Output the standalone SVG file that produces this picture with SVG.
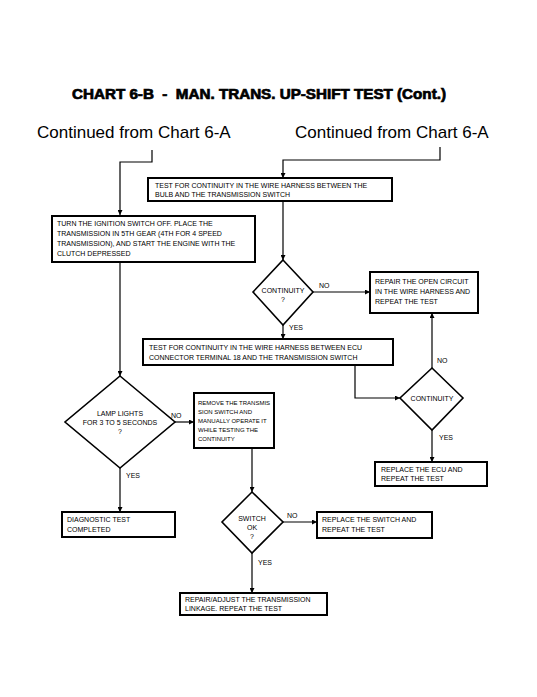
<svg xmlns="http://www.w3.org/2000/svg" width="537" height="697" viewBox="0 0 537 697">
<defs>
<marker id="arr" viewBox="0 0 8 8" refX="8" refY="4" markerWidth="5" markerHeight="5" orient="auto" markerUnits="userSpaceOnUse">
<path d="M0,0 L8,4 L0,8 z" fill="#000"/>
</marker>
<style>
.box{fill:#fff;stroke:#000;stroke-width:2}
.dia{fill:#fff;stroke:#000;stroke-width:1.6}
.c{fill:none;stroke:#000;stroke-width:1.2}
.t{font-family:"Liberation Sans",Arial,sans-serif;font-size:7px;fill:#000}
.ts{font-family:"Liberation Sans",Arial,sans-serif;font-size:6px;fill:#000}
.tc{font-family:"Liberation Sans",Arial,sans-serif;font-size:7px;fill:#000;text-anchor:middle}
.lab{font-family:"Liberation Sans",Arial,sans-serif;font-size:7px;fill:#000}
.big{font-family:"Liberation Sans",Arial,sans-serif;font-size:17px;fill:#000}
.title{font-family:"Liberation Sans",Arial,sans-serif;font-size:14px;font-weight:bold;fill:#000;stroke:#000;stroke-width:0.7;white-space:pre}
</style>
</defs>
<rect width="537" height="697" fill="#fff"/>
<text class="title" x="72" y="99" xml:space="preserve" textLength="374" lengthAdjust="spacingAndGlyphs">CHART 6-B  -  MAN. TRANS. UP-SHIFT TEST (Cont.)</text>
<text class="big" x="37" y="138">Continued from Chart 6-A</text>
<text class="big" x="295" y="138">Continued from Chart 6-A</text>

<g id="connectors">
<path class="c" d="M152,150 V162 H120 V215" marker-end="url(#arr)"/>
<path class="c" d="M440,147 V160 H283 V178" marker-end="url(#arr)"/>
<path class="c" d="M283,201 V260" marker-end="url(#arr)"/>
<path class="c" d="M313,292 H370" marker-end="url(#arr)"/>
<path class="c" d="M283,325 V339" marker-end="url(#arr)"/>
<path class="c" d="M355,365 V398 H400" marker-end="url(#arr)"/>
<path class="c" d="M432,368 V313" marker-end="url(#arr)"/>
<path class="c" d="M432,430 V462" marker-end="url(#arr)"/>
<path class="c" d="M120,262 V376" marker-end="url(#arr)"/>
<path class="c" d="M175,422 H194" marker-end="url(#arr)"/>
<path class="c" d="M120,468 V512" marker-end="url(#arr)"/>
<path class="c" d="M252,448 V492" marker-end="url(#arr)"/>
<path class="c" d="M283,522 H317" marker-end="url(#arr)"/>
<path class="c" d="M252,553 V593" marker-end="url(#arr)"/>
<text class="lab" x="319" y="288">NO</text>
<text class="lab" x="289" y="330">YES</text>
<text class="lab" x="437" y="363">NO</text>
<text class="lab" x="439" y="440">YES</text>
<text class="lab" x="171" y="418">NO</text>
<text class="lab" x="126" y="478">YES</text>
<text class="lab" x="287" y="518">NO</text>
<text class="lab" x="258" y="565">YES</text>
</g>

<g id="test1">
<rect class="box" x="148" y="178" width="244" height="23"/>
<text class="t" x="155" y="188">TEST FOR CONTINUITY IN THE WIRE HARNESS BETWEEN THE</text>
<text class="t" x="155" y="197">BULB AND THE TRANSMISSION SWITCH</text>
</g>

<g id="ignition">
<rect class="box" x="52" y="216" width="203" height="46"/>
<text class="t" x="57" y="226">TURN THE IGNITION SWITCH OFF. PLACE THE</text>
<text class="t" x="57" y="236">TRANSMISSION IN 5TH GEAR (4TH FOR 4 SPEED</text>
<text class="t" x="57" y="246">TRANSMISSION), AND START THE ENGINE WITH THE</text>
<text class="t" x="57" y="256">CLUTCH DEPRESSED</text>
</g>

<g id="continuity1">
<polygon class="dia" points="283,260 313,292 283,325 253,292"/>
<text class="tc" x="283" y="293">CONTINUITY</text>
<text class="tc" x="283" y="302">?</text>
</g>

<g id="repair-open">
<rect class="box" x="370" y="272" width="108" height="41"/>
<text class="t" x="375" y="284">REPAIR THE OPEN CIRCUIT</text>
<text class="t" x="375" y="294">IN THE WIRE HARNESS AND</text>
<text class="t" x="375" y="304">REPEAT THE TEST</text>
</g>

<g id="test2">
<rect class="box" x="143" y="339" width="250" height="26"/>
<text class="t" x="149" y="350">TEST FOR CONTINUITY IN THE WIRE HARNESS BETWEEN ECU</text>
<text class="t" x="149" y="360">CONNECTOR TERMINAL 18 AND THE TRANSMISSION SWITCH</text>
</g>

<g id="continuity2">
<polygon class="dia" points="432,368 463,398 432,430 400,398"/>
<text class="tc" x="432" y="401">CONTINUITY</text>
</g>

<g id="replace-ecu">
<rect class="box" x="375" y="462" width="112" height="24"/>
<text class="t" x="381" y="472">REPLACE THE ECU AND</text>
<text class="t" x="381" y="481">REPEAT THE TEST</text>
</g>

<g id="lamp">
<polygon class="dia" points="120,376 175,422 120,468 65,422"/>
<text class="tc" x="120" y="416">LAMP LIGHTS</text>
<text class="tc" x="120" y="425">FOR 3 TO 5 SECONDS</text>
<text class="tc" x="120" y="434">?</text>
</g>

<g id="remove">
<rect class="box" x="194" y="393" width="80" height="55"/>
<text class="ts" x="198" y="405">REMOVE THE TRANSMIS</text>
<text class="ts" x="198" y="414">SION SWITCH AND</text>
<text class="ts" x="198" y="423">MANUALLY OPERATE IT</text>
<text class="ts" x="198" y="432">WHILE TESTING THE</text>
<text class="ts" x="198" y="441">CONTINUITY</text>
</g>

<g id="diagnostic">
<rect class="box" x="62" y="512" width="113" height="25"/>
<text class="t" x="67" y="522">DIAGNOSTIC TEST</text>
<text class="t" x="67" y="532">COMPLETED</text>
</g>

<g id="switch-ok">
<polygon class="dia" points="252,492 283,522 252,553 222,522"/>
<text class="tc" x="252" y="521">SWITCH</text>
<text class="tc" x="252" y="530">OK</text>
<text class="tc" x="252" y="539">?</text>
</g>

<g id="replace-switch">
<rect class="box" x="317" y="512" width="115" height="26"/>
<text class="t" x="322" y="522">REPLACE THE SWITCH AND</text>
<text class="t" x="322" y="532">REPEAT THE TEST</text>
</g>

<g id="repair-adjust">
<rect class="box" x="180" y="593" width="147" height="22"/>
<text class="t" x="185" y="602">REPAIR/ADJUST THE TRANSMISSION</text>
<text class="t" x="185" y="611">LINKAGE. REPEAT THE TEST</text>
</g>
</svg>
